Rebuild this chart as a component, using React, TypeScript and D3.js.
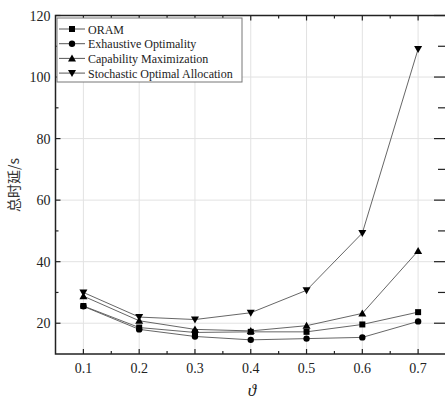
import React from "react";
import * as d3 from "d3";

const thetas = [0.1, 0.2, 0.3, 0.4, 0.5, 0.6, 0.7];
const oram = [25.6, 18.6, 17.0, 17.2, 17.2, 19.6, 23.6];
const exhaustive = [25.5, 18.0, 15.7, 14.6, 15.0, 15.4, 20.6];
const capability = [28.8, 20.8, 18.0, 17.5, 19.2, 23.2, 43.5];
const stochastic = [30.0, 22.0, 21.2, 23.4, 30.7, 49.3, 109.1];
const seriesNames = ["ORAM", "Exhaustive Optimality", "Capability Maximization", "Stochastic Optimal Allocation"];
const seriesShapes = ["square", "circle", "triangle", "down"];
const xTicks = [0.1, 0.2, 0.3, 0.4, 0.5, 0.6, 0.7];
const xMinor = [0.15, 0.25, 0.35, 0.45, 0.55, 0.65];
const yTicks = [20, 40, 60, 80, 100, 120];
const yMinor = [30, 50, 70, 90, 110];
const yTitle = "总时延/s";
const xTitle = "ϑ";

const W = 445, H = 400;
const left = 55.5, right = 446, top = 15.5, bottom = 354;
const serif = "Liberation Serif, DejaVu Serif, serif";

function Marker({ shape, x, y }: { shape: string; x: number; y: number }) {
  if (shape === "square") return <rect x={x - 3} y={y - 3} width={6} height={6} fill="#000" />;
  if (shape === "circle") return <circle cx={x} cy={y} r={3.2} fill="#000" />;
  if (shape === "triangle") return <path d={`M${x},${y - 4} L${x + 4},${y + 3} L${x - 4},${y + 3} Z`} fill="#000" />;
  return <path d={`M${x},${y + 4} L${x + 4},${y - 3} L${x - 4},${y - 3} Z`} fill="#000" />;
}

export default function App() {
  const x = d3.scaleLinear().domain([0.05, 0.75]).range([left, right]);
  const y = d3.scaleLinear().domain([10, 120]).range([bottom, top]);
  const all = [oram, exhaustive, capability, stochastic];
  const line = d3.line<number>().x((_, i) => x(thetas[i])).y((d) => y(d));
  const ts = { fontFamily: serif };
  return (
    <svg width={W} height={H} style={{ position: "absolute", left: 0, top: 0, background: "#fff" }}>
      <rect x={0} y={0} width={W} height={H} fill="#fff" />
      {xTicks.map((t) => (
        <line key={"gx" + t} x1={x(t)} x2={x(t)} y1={top} y2={bottom} stroke="#e2e2e2" strokeWidth={1} />
      ))}
      {yTicks.map((t) => (
        <line key={"gy" + t} x1={left} x2={right} y1={y(t)} y2={y(t)} stroke="#e2e2e2" strokeWidth={1} />
      ))}
      {all.map((s, k) => (
        <path key={"l" + k} d={line(s) || ""} fill="none" stroke="#555" strokeWidth={0.9} />
      ))}
      {all.map((s, k) =>
        s.map((v, i) => <Marker key={"m" + k + "-" + i} shape={seriesShapes[k]} x={x(thetas[i])} y={y(v)} />)
      )}
      <rect x={left} y={top} width={right - left} height={bottom - top} fill="none" stroke="#222" strokeWidth={1.5} />
      {xTicks.map((t) => (
        <g key={"tx" + t}>
          <line x1={x(t)} x2={x(t)} y1={bottom} y2={bottom - 5} stroke="#222" strokeWidth={1.2} />
          <line x1={x(t)} x2={x(t)} y1={top} y2={top + 5} stroke="#222" strokeWidth={1.2} />
          <text x={x(t)} y={373} textAnchor="middle" style={ts} fontSize={14} fill="#222">
            {t.toFixed(1)}
          </text>
        </g>
      ))}
      {xMinor.map((t) => (
        <g key={"mx" + t}>
          <line x1={x(t)} x2={x(t)} y1={bottom} y2={bottom - 3} stroke="#222" strokeWidth={1.2} />
          <line x1={x(t)} x2={x(t)} y1={top} y2={top + 3} stroke="#222" strokeWidth={1.2} />
        </g>
      ))}
      {yTicks.map((t) => (
        <g key={"ty" + t}>
          <line x1={left} x2={left + 5} y1={y(t)} y2={y(t)} stroke="#222" strokeWidth={1.2} />
          <line x1={right - 12} x2={right} y1={y(t)} y2={y(t)} stroke="#222" strokeWidth={1.2} />
          <text x={left - 5} y={y(t) + 5} textAnchor="end" style={ts} fontSize={14} fill="#222">
            {t}
          </text>
        </g>
      ))}
      {yMinor.map((t) => (
        <g key={"my" + t}>
          <line x1={left} x2={left + 3} y1={y(t)} y2={y(t)} stroke="#222" strokeWidth={1.2} />
          <line x1={right - 8} x2={right} y1={y(t)} y2={y(t)} stroke="#222" strokeWidth={1.2} />
        </g>
      ))}
      <text
        transform={`translate(19,185) rotate(-90)`}
        textAnchor="middle"
        style={{ fontFamily: "Noto Sans CJK SC, sans-serif" }}
        fontSize={14}
        fill="#333"
      >
        {yTitle}
      </text>
      <text x={252} y={396} textAnchor="middle" style={ts} fontStyle="italic" fontSize={17} fill="#222">
        {xTitle}
      </text>
      <rect x={57} y={18} width={185} height={64} fill="#fff" stroke="#777" strokeWidth={1} />
      {seriesNames.map((n, k) => {
        const ly = 29 + k * 14.7;
        return (
          <g key={"lg" + k}>
            <line x1={59} x2={85} y1={ly} y2={ly} stroke="#444" strokeWidth={0.9} />
            <Marker shape={seriesShapes[k]} x={72} y={ly} />
            <text x={88} y={ly + 4.5} style={ts} fontSize={12} fill="#222">
              {n}
            </text>
          </g>
        );
      })}
    </svg>
  );
}
